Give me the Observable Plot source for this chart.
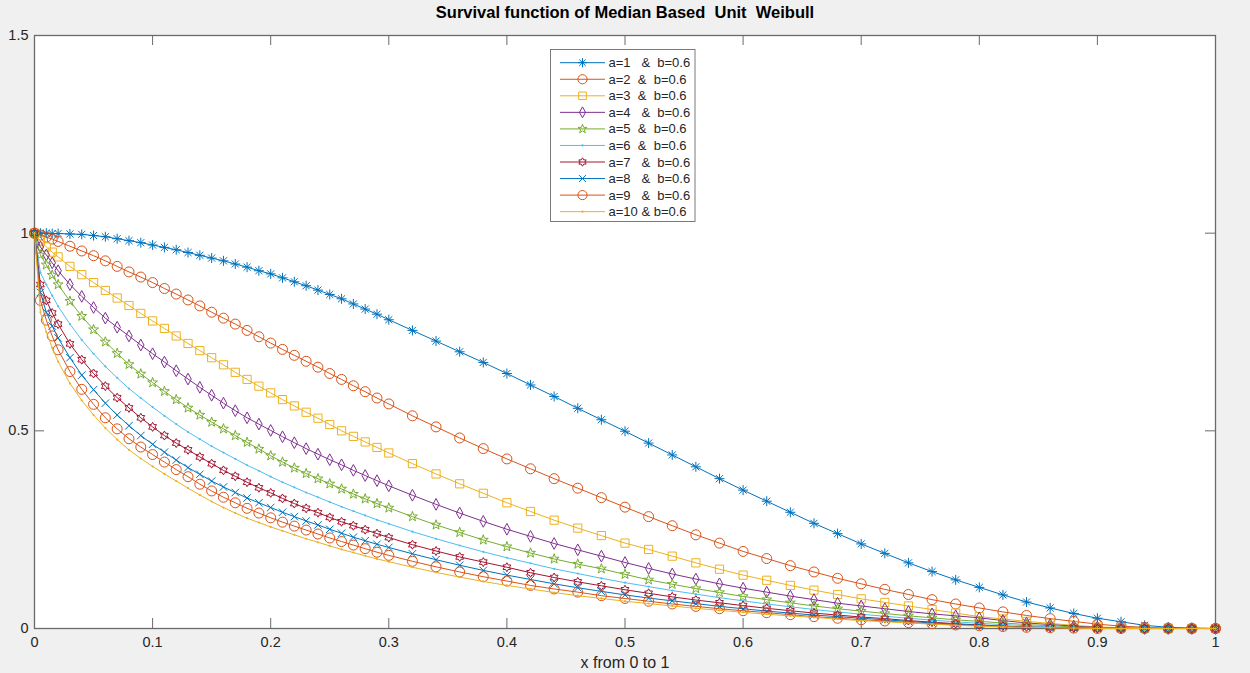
<!DOCTYPE html>
<html>
<head>
<meta charset="utf-8">
<script src="https://cdn.jsdelivr.net/npm/d3@7"></script>
<script src="https://cdn.jsdelivr.net/npm/@observablehq/plot@0.6"></script>
<style>
  html, body { margin: 0; padding: 0; background: #f0f0f0; }
  body { font-family: "Liberation Sans", Arial, Helvetica, sans-serif; }
  #wrap { width: 1250px; height: 673px; overflow: hidden; }
  #title { height: 24px; line-height: 25px; text-align: center; font-weight: bold; font-size: 16.5px; color: #000; white-space: pre; }
  #chart svg { display: block; }
</style>
</head>
<body>
<div id="wrap">
  <div id="title">Survival function of Median Based  Unit  Weibull</div>
  <div id="chart"></div>
</div>
<script>
// ---------------- data ----------------
const xs = [0, 0.005, 0.01, 0.015, 0.02,
  0.03, 0.04, 0.05, 0.06, 0.07, 0.08, 0.09, 0.10,
  0.11, 0.12, 0.13, 0.14, 0.15, 0.16, 0.17, 0.18, 0.19, 0.20,
  0.21, 0.22, 0.23, 0.24, 0.25, 0.26, 0.27, 0.28, 0.29, 0.30,
  0.32, 0.34, 0.36, 0.38, 0.40, 0.42, 0.44, 0.46, 0.48, 0.50,
  0.52, 0.54, 0.56, 0.58, 0.60, 0.62, 0.64, 0.66, 0.68, 0.70,
  0.72, 0.74, 0.76, 0.78, 0.80, 0.82, 0.84, 0.86, 0.88, 0.90,
  0.92, 0.94, 0.96, 0.98, 1.0];

const a1 = [1, 1, 1, 0.999, 0.999,
  0.998, 0.997, 0.994, 0.991, 0.986, 0.981, 0.976, 0.970,
  0.964, 0.958, 0.951, 0.944, 0.937, 0.930, 0.922, 0.914, 0.905, 0.897,
  0.887, 0.877, 0.867, 0.856, 0.845, 0.834, 0.821, 0.808, 0.795, 0.781,
  0.754, 0.727, 0.700, 0.673, 0.645, 0.616, 0.587, 0.557, 0.528, 0.499,
  0.469, 0.439, 0.409, 0.379, 0.350, 0.322, 0.294, 0.266, 0.240, 0.214,
  0.190, 0.166, 0.144, 0.123, 0.104, 0.085, 0.067, 0.052, 0.038, 0.026,
  0.017, 0.008, 0.003, 0.001, 0];
const a2 = [1, 0.995, 0.99, 0.985, 0.979,
  0.967, 0.955, 0.943, 0.930, 0.916, 0.902, 0.889, 0.875,
  0.860, 0.846, 0.831, 0.816, 0.800, 0.785, 0.770, 0.754, 0.738, 0.722,
  0.706, 0.691, 0.676, 0.661, 0.645, 0.630, 0.614, 0.599, 0.583, 0.568,
  0.538, 0.510, 0.482, 0.455, 0.429, 0.404, 0.379, 0.355, 0.331, 0.307,
  0.283, 0.260, 0.237, 0.216, 0.195, 0.177, 0.159, 0.143, 0.127, 0.113,
  0.099, 0.086, 0.073, 0.062, 0.052, 0.042, 0.033, 0.025, 0.018, 0.011,
  0.006, 0.003, 0.001, 0, 0];
const a3 = [1, 0.98, 0.965, 0.952, 0.94,
  0.916, 0.895, 0.875, 0.855, 0.836, 0.817, 0.797, 0.778,
  0.759, 0.740, 0.721, 0.703, 0.685, 0.667, 0.648, 0.630, 0.613, 0.596,
  0.579, 0.563, 0.547, 0.532, 0.516, 0.500, 0.486, 0.472, 0.458, 0.444,
  0.417, 0.391, 0.366, 0.342, 0.318, 0.296, 0.274, 0.254, 0.235, 0.216,
  0.200, 0.183, 0.166, 0.150, 0.135, 0.122, 0.109, 0.097, 0.086, 0.075,
  0.066, 0.057, 0.048, 0.039, 0.030, 0.024, 0.018, 0.013, 0.008, 0.004,
  0.002, 0.001, 0, 0, 0];
const a4 = [1, 0.965, 0.945, 0.925, 0.905,
  0.870, 0.840, 0.812, 0.785, 0.762, 0.740, 0.717, 0.695,
  0.674, 0.652, 0.631, 0.610, 0.590, 0.570, 0.551, 0.533, 0.517, 0.501,
  0.485, 0.470, 0.455, 0.441, 0.427, 0.414, 0.400, 0.387, 0.374, 0.361,
  0.337, 0.314, 0.292, 0.271, 0.251, 0.233, 0.215, 0.199, 0.183, 0.167,
  0.152, 0.138, 0.125, 0.113, 0.102, 0.092, 0.082, 0.073, 0.064, 0.057,
  0.050, 0.043, 0.037, 0.032, 0.027, 0.020, 0.014, 0.010, 0.006, 0.003,
  0.001, 0, 0, 0, 0];
const a5 = [1, 0.945, 0.92, 0.894, 0.87,
  0.828, 0.790, 0.756, 0.725, 0.696, 0.668, 0.644, 0.622,
  0.600, 0.579, 0.558, 0.540, 0.522, 0.505, 0.488, 0.471, 0.454, 0.437,
  0.421, 0.406, 0.392, 0.379, 0.366, 0.353, 0.340, 0.328, 0.316, 0.305,
  0.283, 0.262, 0.243, 0.224, 0.207, 0.191, 0.176, 0.163, 0.151, 0.137,
  0.123, 0.112, 0.101, 0.091, 0.081, 0.073, 0.065, 0.057, 0.050, 0.044,
  0.038, 0.032, 0.027, 0.022, 0.018, 0.014, 0.010, 0.007, 0.004, 0.002,
  0.001, 0, 0, 0, 0];
const a6 = [1, 0.9, 0.87, 0.842, 0.815,
  0.770, 0.730, 0.695, 0.663, 0.634, 0.607, 0.583, 0.560,
  0.538, 0.517, 0.497, 0.479, 0.461, 0.445, 0.429, 0.413, 0.399, 0.384,
  0.370, 0.357, 0.344, 0.332, 0.320, 0.308, 0.297, 0.286, 0.275, 0.265,
  0.245, 0.227, 0.210, 0.194, 0.179, 0.165, 0.151, 0.139, 0.127, 0.116,
  0.106, 0.096, 0.087, 0.078, 0.070, 0.062, 0.055, 0.048, 0.042, 0.036,
  0.031, 0.026, 0.021, 0.017, 0.013, 0.010, 0.007, 0.004, 0.002, 0.001,
  0, 0, 0, 0, 0];
const a7 = [1, 0.87, 0.83, 0.798, 0.77,
  0.720, 0.680, 0.645, 0.613, 0.584, 0.558, 0.533, 0.510,
  0.488, 0.469, 0.452, 0.434, 0.417, 0.400, 0.385, 0.370, 0.356, 0.343,
  0.329, 0.316, 0.304, 0.293, 0.281, 0.270, 0.260, 0.250, 0.240, 0.230,
  0.212, 0.196, 0.181, 0.168, 0.155, 0.141, 0.129, 0.118, 0.108, 0.098,
  0.089, 0.080, 0.072, 0.065, 0.058, 0.051, 0.045, 0.039, 0.034, 0.029,
  0.025, 0.020, 0.016, 0.012, 0.009, 0.006, 0.004, 0.002, 0.001, 0,
  0, 0, 0, 0, 0];
const a8 = [1, 0.85, 0.80, 0.765, 0.735,
  0.685, 0.641, 0.604, 0.570, 0.540, 0.513, 0.488, 0.466,
  0.446, 0.426, 0.407, 0.390, 0.373, 0.358, 0.344, 0.330, 0.318, 0.306,
  0.294, 0.283, 0.272, 0.262, 0.251, 0.241, 0.231, 0.222, 0.213, 0.205,
  0.189, 0.174, 0.160, 0.147, 0.135, 0.124, 0.113, 0.103, 0.094, 0.085,
  0.077, 0.070, 0.063, 0.056, 0.050, 0.044, 0.039, 0.034, 0.030, 0.026,
  0.022, 0.018, 0.014, 0.011, 0.008, 0.005, 0.003, 0.002, 0.001, 0,
  0, 0, 0, 0, 0];
const a9 = [1, 0.83, 0.78, 0.74, 0.705,
  0.650, 0.605, 0.567, 0.533, 0.505, 0.480, 0.459, 0.440,
  0.421, 0.402, 0.384, 0.365, 0.348, 0.332, 0.318, 0.304, 0.292, 0.280,
  0.269, 0.259, 0.249, 0.239, 0.229, 0.220, 0.211, 0.202, 0.193, 0.185,
  0.170, 0.156, 0.143, 0.131, 0.120, 0.109, 0.100, 0.092, 0.083, 0.076,
  0.069, 0.062, 0.056, 0.050, 0.045, 0.040, 0.035, 0.030, 0.026, 0.022,
  0.019, 0.015, 0.012, 0.009, 0.007, 0.005, 0.003, 0.002, 0.001, 0,
  0, 0, 0, 0, 0];
const a10 = [1, 0.80, 0.75, 0.71, 0.675,
  0.620, 0.577, 0.540, 0.507, 0.478, 0.452, 0.430, 0.410,
  0.391, 0.373, 0.355, 0.338, 0.321, 0.306, 0.292, 0.279, 0.268, 0.257,
  0.247, 0.237, 0.227, 0.218, 0.209, 0.200, 0.192, 0.184, 0.176, 0.169,
  0.155, 0.142, 0.130, 0.119, 0.109, 0.100, 0.091, 0.083, 0.076, 0.069,
  0.063, 0.057, 0.051, 0.046, 0.041, 0.036, 0.032, 0.028, 0.024, 0.020,
  0.017, 0.014, 0.011, 0.008, 0.006, 0.004, 0.003, 0.002, 0.001, 0,
  0, 0, 0, 0, 0];

const seriesLabels = ["a=1   &  b=0.6", "a=2  &  b=0.6", "a=3  &  b=0.6", "a=4   &  b=0.6",
  "a=5  &  b=0.6", "a=6  &  b=0.6", "a=7   &  b=0.6", "a=8   &  b=0.6", "a=9   &  b=0.6",
  "a=10 & b=0.6"];
const xTicks = [0, 0.1, 0.2, 0.3, 0.4, 0.5, 0.6, 0.7, 0.8, 0.9, 1];
const yTicks = [0, 0.5, 1, 1.5];
const xLabel = "x from 0 to 1";

// ---------------- styles ----------------
const colors = ["#0072BD", "#D95319", "#EDB120", "#7E2F8E", "#77AC30",
  "#4DBEEE", "#A2142F", "#0072BD", "#D95319", "#EDB120"];

const rad = s => Math.sqrt(s / Math.PI);
const symAst = { draw(c, s) { const r = rad(s), d = r * Math.SQRT1_2;
  c.moveTo(-r, 0); c.lineTo(r, 0); c.moveTo(0, -r); c.lineTo(0, r);
  c.moveTo(-d, -d); c.lineTo(d, d); c.moveTo(-d, d); c.lineTo(d, -d); } };
const symCircle = { draw(c, s) { const r = rad(s); c.moveTo(r, 0); c.arc(0, 0, r, 0, 2 * Math.PI); c.closePath(); } };
const symSquare = { draw(c, s) { const r = rad(s); c.rect(-r, -r, 2 * r, 2 * r); } };
const symDiamond = { draw(c, s) { const r = rad(s);
  c.moveTo(0, -r * 1.3); c.lineTo(r * 0.72, 0); c.lineTo(0, r * 1.3); c.lineTo(-r * 0.72, 0); c.closePath(); } };
const symPent = { draw(c, s) { const r = rad(s), ri = r * 0.4;
  for (let i = 0; i < 10; i++) { const a = -Math.PI / 2 + i * Math.PI / 5, rr = i % 2 ? ri : r;
    const px = rr * Math.cos(a), py = rr * Math.sin(a); if (i) c.lineTo(px, py); else c.moveTo(px, py); }
  c.closePath(); } };
const symHex = { draw(c, s) { const r = rad(s), ri = r * 0.58;
  for (let i = 0; i < 12; i++) { const a = -Math.PI / 2 + i * Math.PI / 6, rr = i % 2 ? ri : r;
    const px = rr * Math.cos(a), py = rr * Math.sin(a); if (i) c.lineTo(px, py); else c.moveTo(px, py); }
  c.closePath(); } };
const symX = { draw(c, s) { const r = rad(s) * 0.75;
  c.moveTo(-r, -r); c.lineTo(r, r); c.moveTo(-r, r); c.lineTo(r, -r); } };
const symPoint = symCircle;

const symbols = [symAst, symCircle, symSquare, symDiamond, symPent, symPoint, symHex, symX, symCircle, symPoint];
const radii = [5, 5, 4.1, 4.5, 5.2, 1.1, 4.5, 5, 5, 1.1];
const legendRadii = [4.6, 4.6, 3.8, 4.2, 4.8, 1.1, 4.2, 4.6, 4.6, 1.1];
const filled = [false, false, false, false, false, true, false, false, false, true];

// ---------------- build table ----------------
const allSeries = [a1, a2, a3, a4, a5, a6, a7, a8, a9, a10];
allSeries.forEach((s, k) => { if (s.length !== xs.length) console.warn("length mismatch", k, s.length); });
const table = allSeries.flatMap((vals, k) => xs.map((x, i) => ({ k, x, y: vals[i] })));

const W = 1250, H = 649, ML = 34, MR = 35, MT = 11, MB = 45;
const innerW = W - ML - MR, innerH = H - MT - MB;
const axisGrey = "#6a6a6a";
const textGrey = "#262626";

const seriesMarks = allSeries.flatMap((vals, k) => {
  const data = table.filter(d => d.k === k);
  return [
    Plot.line(data, { x: "x", y: "y", stroke: colors[k], strokeWidth: 1 }),
    Plot.dot(data, { x: "x", y: "y", symbol: symbols[k], r: radii[k],
      stroke: filled[k] ? "none" : colors[k], fill: filled[k] ? colors[k] : "none", strokeWidth: 1 })
  ];
});

const fmt = d => String(d);

const plot = Plot.plot({
  width: W, height: H,
  marginLeft: ML, marginRight: MR, marginTop: MT, marginBottom: MB,
  style: { background: "transparent", fontFamily: "'Liberation Sans', Arial, Helvetica, sans-serif", overflow: "visible" },
  x: { domain: [0, 1], label: null },
  y: { domain: [0, 1.5], label: null },
  marks: [
    Plot.frame({ fill: "white", stroke: "none" }),
    Plot.frame({ stroke: axisGrey, strokeWidth: 1.3 }),
    Plot.ruleX(xTicks, { insetTop: innerH - 10, stroke: axisGrey }),
    Plot.ruleX(xTicks, { insetBottom: innerH - 10, stroke: axisGrey }),
    Plot.ruleY(yTicks, { insetRight: innerW - 10, stroke: axisGrey }),
    Plot.ruleY(yTicks, { insetLeft: innerW - 10, stroke: axisGrey }),
    ...seriesMarks,
    Plot.axisX(xTicks, { tickSize: 0, tickPadding: 8, tickFormat: fmt, label: null, fontSize: 14.5, fill: textGrey }),
    Plot.axisY(yTicks, { tickSize: 0, tickPadding: 6, tickFormat: fmt, label: null, fontSize: 14.5, fill: textGrey }),
    Plot.text([xLabel], { frameAnchor: "bottom", dy: 34, fontSize: 16, fill: textGrey, lineAnchor: "middle" })
  ]
});
document.getElementById("chart").appendChild(plot);

// ---------------- legend ----------------
const svg = d3.select(plot);
const lg = svg.append("g").attr("class", "legend");
const boxX = 550.5, boxY = 25.5, boxW = 144.5, boxH = 172;
lg.append("rect").attr("x", boxX).attr("y", boxY).attr("width", boxW).attr("height", boxH)
  .attr("fill", "white").attr("stroke", "#7a7a7a").attr("stroke-width", 1);
seriesLabels.forEach((lab, k) => {
  const cy = 38.7 + k * 16.55;
  lg.append("line").attr("x1", 560).attr("x2", 605).attr("y1", cy).attr("y2", cy)
    .attr("stroke", colors[k]).attr("stroke-width", 1);
  const p = d3.path();
  symbols[k].draw(p, legendRadii[k] * legendRadii[k] * Math.PI);
  lg.append("path").attr("d", p.toString()).attr("transform", `translate(582.5,${cy})`)
    .attr("fill", filled[k] ? colors[k] : "none").attr("stroke", filled[k] ? "none" : colors[k]).attr("stroke-width", 1);
  lg.append("text").attr("x", 608.5).attr("y", cy).attr("dy", "0.35em")
    .attr("text-anchor", "start")
    .attr("font-size", 13).attr("fill", textGrey).style("white-space", "pre")
    .text(lab);
});
</script>
</body>
</html>
